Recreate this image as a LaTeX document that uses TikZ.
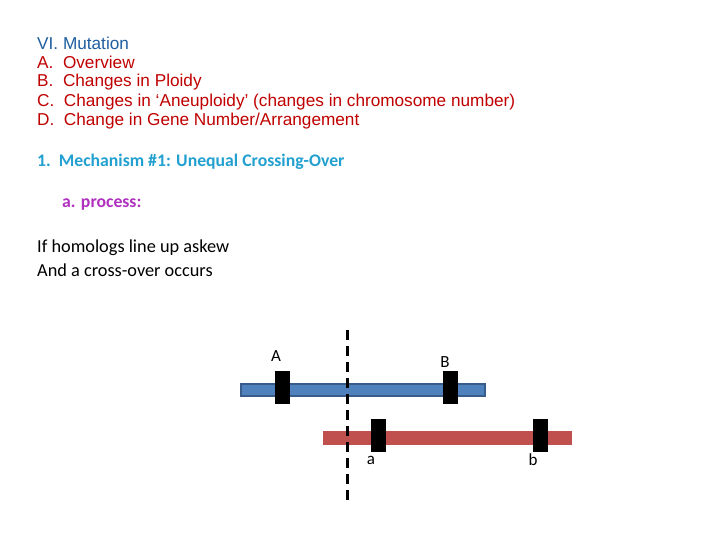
\documentclass[tikz,border=0pt]{standalone}
\usepackage{fontspec}
\setmainfont{Liberation Sans}
\newfontfamily\carl{Carlito}
\definecolor{tblue}{HTML}{1F5FA0}
\definecolor{tred}{HTML}{C00000}
\definecolor{tcyan}{HTML}{22A0D0}
\definecolor{tpurp}{HTML}{B030C0}
\definecolor{chrB}{HTML}{4F81BD}
\definecolor{chrBd}{HTML}{385D8A}
\definecolor{chrR}{HTML}{C0504D}
\begin{document}
\begin{tikzpicture}[x=1pt,y=-1pt,
  txt/.style={anchor=west,inner sep=0pt,font=\fontsize{17.2}{17}\selectfont},
  gene/.style={fill=black,draw=none,minimum width=15pt,minimum height=33pt,inner sep=0pt},
  lab/.style={inner sep=0pt,font=\carl\fontsize{17}{17}\selectfont}]
\useasboundingbox[fill=white] (0,0) rectangle (720,540);
\node[txt,text=tblue] (t0) at (37,43) {VI. Mutation};
\node[txt,text=tred] (t1) at (37,62) {A.\ \ Overview};
\node[txt,text=tred] (t2) at (37,82) {B.\ \ Changes in Ploidy};
\node[txt,text=tred] (t3) at (37,102) {C.\ \ Changes in ‘Aneuploidy’ (changes in chromosome number)};
\node[txt,text=tred] (t4) at (37,121) {D.\ \ Change in Gene Number/Arrangement};
\node[txt,text=tcyan,font=\carl\bfseries\fontsize{17.7}{17}\selectfont] (m1) at (37,162) {1.\ \ Mechanism \#1: Unequal Crossing-Over};
\node[txt,text=tpurp,font=\carl\bfseries\fontsize{17.7}{17}\selectfont] (pr) at (62,205) {a. process:};
\node[txt,font=\carl\fontsize{18.3}{18}\selectfont] (l1) at (37,248) {If homologs line up askew};
\node[txt,font=\carl\fontsize{18.3}{18}\selectfont] (l2) at (37,270) {And a cross-over occurs};
\node[draw=chrBd,fill=chrB,line width=2pt,minimum width=244pt,minimum height=12pt,inner sep=0pt] (blue) at (363,390) {};
\node[fill=chrR,minimum width=249pt,minimum height=14pt,inner sep=0pt] (red) at (447.5,438) {};
\node[gene] (gA) at (282.5,387.5) {};
\node[gene] (gB) at (450.5,387.5) {};
\node[gene] (ga) at (378.5,435.5) {};
\node[gene] (gb) at (540,435.5) {};
\node[lab] (A) at (276,356) {A};
\node[lab] (B) at (445,362) {B};
\node[lab] (a) at (371,460) {a};
\node[lab] (b) at (533,460) {b};
\coordinate (d1) at (347,330);
\coordinate (d2) at (347,506);
\draw[line width=3pt,dash pattern=on 10pt off 6pt] (d1) -- (d2);
\end{tikzpicture}
\end{document}
